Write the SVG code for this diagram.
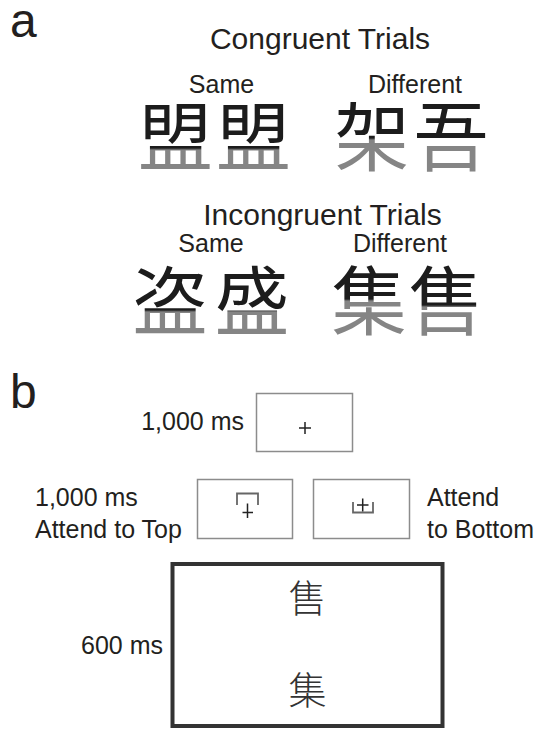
<svg xmlns="http://www.w3.org/2000/svg" width="548" height="730" viewBox="0 0 548 730">
<defs>
<style>
.lbl{font-family:"Liberation Sans",Arial,sans-serif;fill:#231f20;}
.panel{font-size:48px;}
.title{font-size:30px;text-anchor:middle;}
.sub{font-size:25px;text-anchor:middle;}
.t25{font-size:25px;}
.cjk{font-family:"Noto Sans CJK SC","Noto Sans CJK TC",sans-serif;font-size:75px;text-anchor:middle;}
.cjks{font-family:"Noto Sans CJK SC","Noto Sans CJK TC",sans-serif;font-size:38px;text-anchor:middle;fill:#333;font-weight:300;}
.box{fill:#fff;stroke:#8c8c8c;stroke-width:1.5;}
.bigbox{fill:#fff;stroke:#333;stroke-width:4;}
.plus{fill:none;stroke:#222;stroke-width:1.5;}
.brk{fill:none;stroke:#666;stroke-width:1.8;}
</style>
<linearGradient id="g150" gradientUnits="userSpaceOnUse" x1="0" y1="148" x2="0" y2="150"><stop offset="0" stop-color="#1c1c1c"/><stop offset="1" stop-color="#858585"/></linearGradient>
<linearGradient id="g139" gradientUnits="userSpaceOnUse" x1="0" y1="138" x2="0" y2="140"><stop offset="0" stop-color="#1c1c1c"/><stop offset="1" stop-color="#858585"/></linearGradient>
<linearGradient id="g311" gradientUnits="userSpaceOnUse" x1="0" y1="310" x2="0" y2="312"><stop offset="0" stop-color="#1c1c1c"/><stop offset="1" stop-color="#858585"/></linearGradient>
<linearGradient id="g300" gradientUnits="userSpaceOnUse" x1="0" y1="299" x2="0" y2="301"><stop offset="0" stop-color="#1c1c1c"/><stop offset="1" stop-color="#858585"/></linearGradient>
<linearGradient id="g306" gradientUnits="userSpaceOnUse" x1="0" y1="305" x2="0" y2="307"><stop offset="0" stop-color="#1c1c1c"/><stop offset="1" stop-color="#858585"/></linearGradient>
</defs>
<rect width="548" height="730" fill="#fff"/>

<g id="panel-a">
<text class="lbl panel" x="10" y="36.5">a</text>
<text class="lbl title" x="320" y="48.5">Congruent Trials</text>
<text class="lbl sub" x="221.5" y="93">Same</text>
<text class="lbl sub" x="415" y="93">Different</text>
<g id="congruent-chars">
<text class="cjk" x="175.5" y="165" fill="url(#g150)">盟</text>
<text class="cjk" x="253.5" y="165" fill="url(#g150)">盟</text>
<text class="cjk" x="372" y="165" fill="url(#g139)">架</text>
<text class="cjk" x="451" y="165" fill="url(#g139)">吾</text>
</g>
<text class="lbl title" x="322.5" y="225">Incongruent Trials</text>
<text class="lbl sub" x="211" y="252">Same</text>
<text class="lbl sub" x="400" y="252">Different</text>
<g id="incongruent-chars">
<text class="cjk" x="170" y="329" fill="url(#g311)">盗</text>
<text class="cjk" x="252" y="329" fill="url(#g311)">盛</text>
<text class="cjk" x="369" y="329" fill="url(#g300)">集</text>
<text class="cjk" x="446" y="329" fill="url(#g306)">售</text>
</g>
</g>

<g id="panel-b">
<text class="lbl panel" x="10" y="408">b</text>
<g id="fixation">
<text class="lbl t25" x="244" y="430" text-anchor="end">1,000 ms</text>
<rect class="box" x="256.5" y="393.5" width="96" height="58"/>
<path class="plus" d="M299,428 H311 M305,422 V434"/>
</g>
<g id="cue-top">
<text class="lbl t25" x="35" y="506">1,000 ms</text>
<text class="lbl t25" x="35" y="538">Attend to Top</text>
<rect class="box" x="197.5" y="479.5" width="95" height="59"/>
<path class="brk" d="M237,505 V493.5 H258 V505"/>
<path class="plus" d="M242.5,512.5 H253 M247.5,503.5 V518"/>
</g>
<g id="cue-bottom">
<rect class="box" x="313.5" y="479.5" width="96" height="59"/>
<path class="brk" d="M353,502 V512.5 H373 V502"/>
<path class="plus" d="M357,505 H368.5 M362.7,498.5 V511.5"/>
<text class="lbl t25" x="427" y="506">Attend</text>
<text class="lbl t25" x="427" y="538">to Bottom</text>
</g>
<g id="target">
<text class="lbl t25" x="163" y="654" text-anchor="end">600 ms</text>
<rect class="bigbox" x="172.5" y="564" width="270" height="162"/>
<text class="cjks" x="307.5" y="612">售</text>
<text class="cjks" x="307.5" y="703.5">集</text>
</g>
</g>
<g id="connectors"></g>
</svg>
